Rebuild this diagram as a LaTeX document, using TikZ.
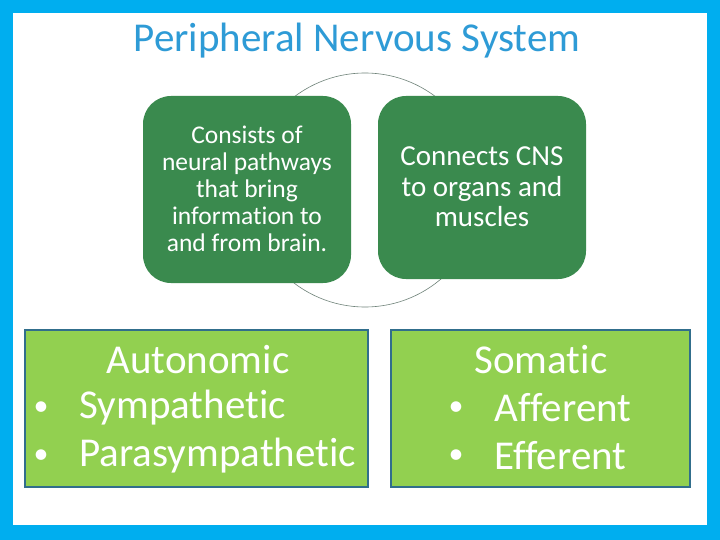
\documentclass[tikz,border=0pt]{standalone}
\usepackage{fontspec}
\setmainfont{Carlito}[Ligatures=NoCommon]
\definecolor{frame}{RGB}{0,174,239}
\definecolor{titleblue}{RGB}{46,155,214}
\definecolor{dkgreen}{RGB}{58,138,78}
\definecolor{ltgreen}{RGB}{146,208,80}
\definecolor{tealborder}{RGB}{49,110,140}
\definecolor{circline}{RGB}{110,130,120}
\begin{document}
\begin{tikzpicture}[x=1pt,y=-1pt,
  lightbox/.style={fill=ltgreen,draw=tealborder,line width=2pt,text=white},
  bigtxt/.style={text=white,font=\fontsize{41}{48}\selectfont},
  bullettxt/.style={text=white,font=\fontsize{30}{36}\selectfont}]
\useasboundingbox (0,0) rectangle (720,540);
\fill[frame] (0,0) rectangle (720,540);
\fill[white] (13,13) rectangle (707,525);
\node[text=titleblue,font=\fontsize{41}{44}\selectfont] (title) at (357,41) {Peripheral Nervous System};
\draw[circline,line width=0.6pt] (365,190) circle (117);
\fill[dkgreen,rounded corners=28pt] (143,96) rectangle (351,283);
\node[text=white,align=center,font=\fontsize{25.5}{27}\selectfont] (lt) at (247,189) {Consists of\\neural pathways\\that bring\\information to\\and from brain.};
\fill[dkgreen,rounded corners=28pt] (378,96) rectangle (586,279);
\node[text=white,align=center,font=\fontsize{29}{30.5}\selectfont] (rt) at (482,187) {Connects CNS\\to organs and\\muscles};
\draw[lightbox] (25,330) rectangle (368,487);
\draw[lightbox] (391,330) rectangle (690,487);
\node[bigtxt] (auto) at (198,360) {Autonomic};
\node[bullettxt] (b1) at (41,409) {\textbullet};
\node[bigtxt,anchor=west] (symp) at (76,408) {Sympathetic};
\node[bullettxt] (b2) at (41,457) {\textbullet};
\node[bigtxt,anchor=west] (para) at (76,456) {Parasympathetic};
\node[bigtxt] (som) at (541,360) {Somatic};
\node[bullettxt] (b3) at (456,409) {\textbullet};
\node[bigtxt,anchor=west] (aff) at (491,408) {Afferent};
\node[bullettxt] (b4) at (456,457) {\textbullet};
\node[bigtxt,anchor=west] (eff) at (491,456) {Efferent};
\end{tikzpicture}
\end{document}
